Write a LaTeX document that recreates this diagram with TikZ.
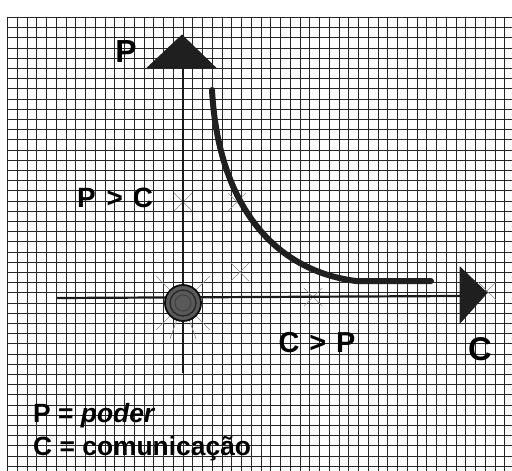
\documentclass[tikz,border=0pt]{standalone}
\usepackage{fontspec}
\setmainfont{Liberation Sans}
\tikzset{
  gridline/.style={line width=1.6bp, black!85},
  axisline/.style={line width=2.2bp, black!90},
  curveline/.style={line width=6bp, black!88, line cap=round},
  headfill/.style={fill=black!88, draw=black!88, line width=0.8bp, line join=round},
  spoke/.style={line width=0.6bp, black!45},
  lbl/.style={font=\bfseries, inner sep=0pt, anchor=base, text=black},
}
\begin{document}
\begin{tikzpicture}[x=1bp, y=-1bp]
\fill[white] (0,0) rectangle (512,471);
\useasboundingbox (0,0) rectangle (512,471);
% grid
\foreach \k in {0,...,51} \draw[gridline] ({round(7+\k*9.75)+0.5},17) -- ({round(7+\k*9.75)+0.5},471);
\foreach \k in {0,...,44} \draw[gridline] (7,{round(17+\k*10.2)+0.5}) -- (512,{round(17+\k*10.2)+0.5});
% key points
\coordinate (O) at (183,303);
\coordinate (Ptip) at (182,35);
\coordinate (Pbl) at (147,68);
\coordinate (Pbr) at (216,68);
\coordinate (Pbase) at (183,68);
\coordinate (Pbot) at (183,373);
\coordinate (Cleft) at (57,298);
\coordinate (Cbase) at (460,296);
\coordinate (Ctip) at (487,293);
\coordinate (Ctop) at (460,267);
\coordinate (Cbot) at (460,323);
% cross marks
\foreach \p in {(183,202),(237,202),(240,272),(313,297),(487,291)}{
  \draw[spoke] \p ++(-9,-9) -- ++(18,18);
  \draw[spoke] \p ++(-9,9) -- ++(18,-18);
}
% spokes around origin
\foreach \a in {45,135,225,315,70,110}{
  \draw[spoke] (O) -- ++(\a:38);
}
% axes
\draw[axisline] (Pbase) -- (Pbot);
\draw[axisline] (Cleft) -- (Cbase);
\fill[headfill] (Ptip) -- (Pbl) -- (Pbr) -- cycle;
\fill[headfill] (Ctip) -- (Ctop) -- (Cbot) -- cycle;
% origin circle
\fill[black!65] (O) circle (18);
\draw[black!95, line width=1.8bp] (O) circle (18);
\draw[black!85, line width=1.3bp] (O) circle (13);
\draw[black!75, line width=1bp] (O) circle (8);
\draw[black!65, line width=0.8bp] (O) circle (4);
% curve
\coordinate (K0) at (212,90);
\coordinate (K1) at (356,281);
\coordinate (K2) at (431,281);
\draw[curveline] (K0) .. controls (218,200) and (270,270) .. (K1) -- (K2);
% labels
\node[lbl, font=\fontsize{32}{32}\selectfont\bfseries] (lp) at (126,63) {P};
\node[lbl, font=\fontsize{28}{28}\selectfont\bfseries] (lpc) at (115,208) {P\hspace{11pt}>\hspace{10pt}C};
\node[lbl, font=\fontsize{29}{29}\selectfont\bfseries] (lcp) at (317,352) {C\hspace{10pt}>\hspace{10pt}P};
\node[lbl, font=\fontsize{33}{33}\selectfont\bfseries] (lc) at (480,360) {C};
\node[lbl, anchor=base west, font=\fontsize{26.5}{26.5}\selectfont\bfseries] (leg1) at (33,422) {P = \textit{poder}};
\node[lbl, anchor=base west, font=\fontsize{26.5}{26.5}\selectfont\bfseries] (leg2) at (33,455) {C = comunicação};
\end{tikzpicture}
\end{document}
